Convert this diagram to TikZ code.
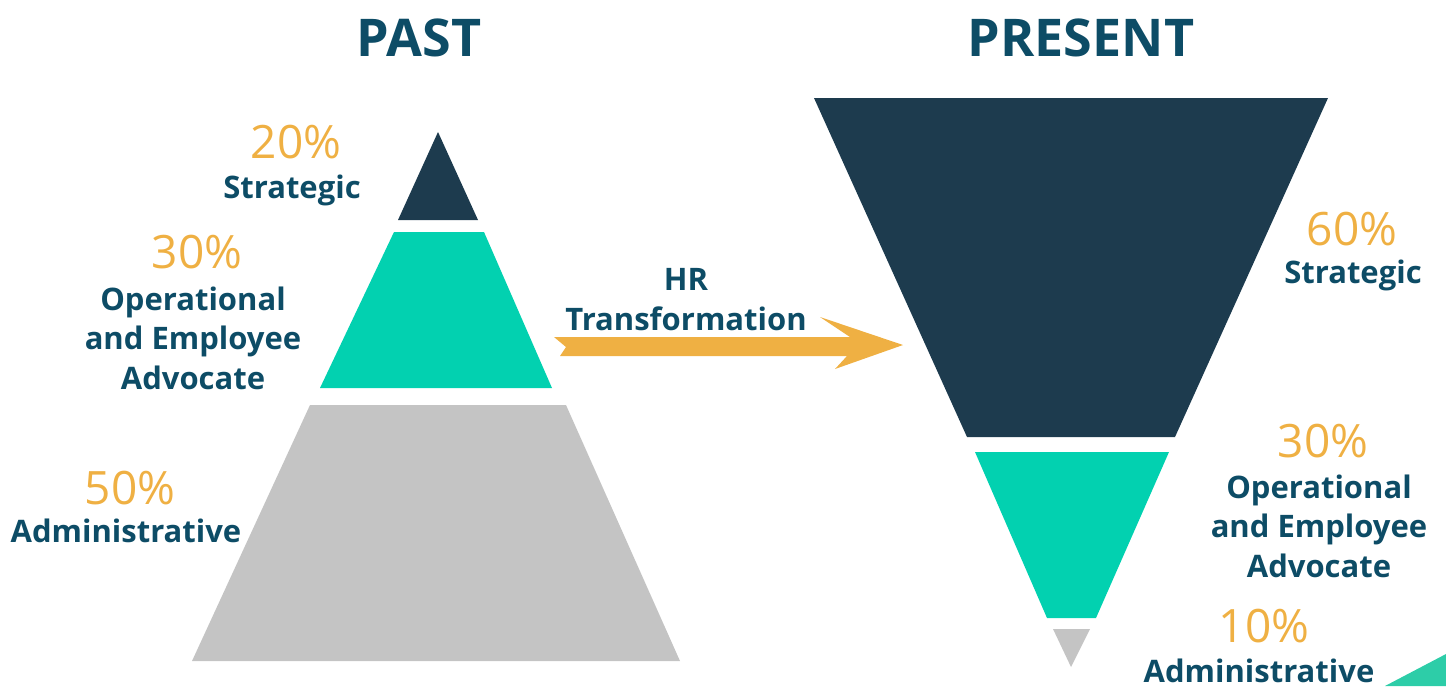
\documentclass[tikz,border=0pt]{standalone}
\usepackage{fontspec}
\setmainfont{Open Sans}
\definecolor{navy}{HTML}{1D3B4E}
\definecolor{teal}{HTML}{02D1B0}
\definecolor{slab}{HTML}{C4C4C4}
\definecolor{amber}{HTML}{EFB043}
\definecolor{ink}{HTML}{0D4C66}
\definecolor{mint}{HTML}{2DCDA8}
\begin{document}
\begin{tikzpicture}[x=1pt,y=-1pt,
  heading/.style={font=\fontsize{52}{60}\selectfont\bfseries, text=ink, anchor=base, inner sep=0pt},
  pct/.style={font=\fontsize{46}{50}\selectfont, text=amber, anchor=base, inner sep=0pt},
  lbl/.style={font=\fontsize{31}{39.5}\selectfont\bfseries, text=ink, anchor=base, align=center, inner sep=0pt}]
\useasboundingbox (0,0) rectangle (1446,686);

% headings
\node[heading] (past) at (419,56) {PAST};
\node[heading] (present) at (1081,56) {PRESENT};

% past pyramid
\fill[navy] (438,132) -- (478,220) -- (398,220) -- cycle;
\fill[teal] (394,232) -- (484,232) -- (552,388) -- (320,388) -- cycle;
\fill[slab] (310,405) -- (566,405) -- (680,661) -- (192,661) -- cycle;

% present (inverted) pyramid
\fill[navy] (814,98) -- (1328,98) -- (1175,437) -- (967,437) -- cycle;
\fill[teal] (975,452) -- (1169,452) -- (1096,618) -- (1047,618) -- cycle;
\fill[slab] (1053,629) -- (1090,629) -- (1071,667) -- cycle;

% corner accent
\fill[mint] (1385,686) -- (1446,654) -- (1446,686) -- cycle;

% transformation arrow
\fill[amber] (554,337) -- (850,337) -- (820,317) -- (903,345) -- (835,369)
  -- (847,356) -- (560,356) -- (566,347) -- cycle;

% past labels (multi-line labels are anchored on their last baseline)
\node[pct] (p20) at (296,158) {20\%};
\node[lbl] (pstrat) at (292,198) {Strategic};
\node[pct] (p30) at (197,268) {30\%};
\node[lbl] (pop) at (193,389) {Operational\\and Employee\\Advocate};
\node[pct] (p50) at (130,504) {50\%};
\node[lbl] (padm) at (126,542) {Administrative};

% arrow label
\node[lbl] (hr) at (686,330) {HR\\Transformation};

% present labels
\node[pct] (n60) at (1352,245) {60\%};
\node[lbl] (nstrat) at (1353,283) {Strategic};
\node[pct] (n30) at (1323,457) {30\%};
\node[lbl] (nop) at (1319,577) {Operational\\and Employee\\Advocate};
\node[pct] (n10) at (1264,642) {10\%};
\node[lbl] (nadm) at (1259,682) {Administrative};
\end{tikzpicture}
\end{document}
